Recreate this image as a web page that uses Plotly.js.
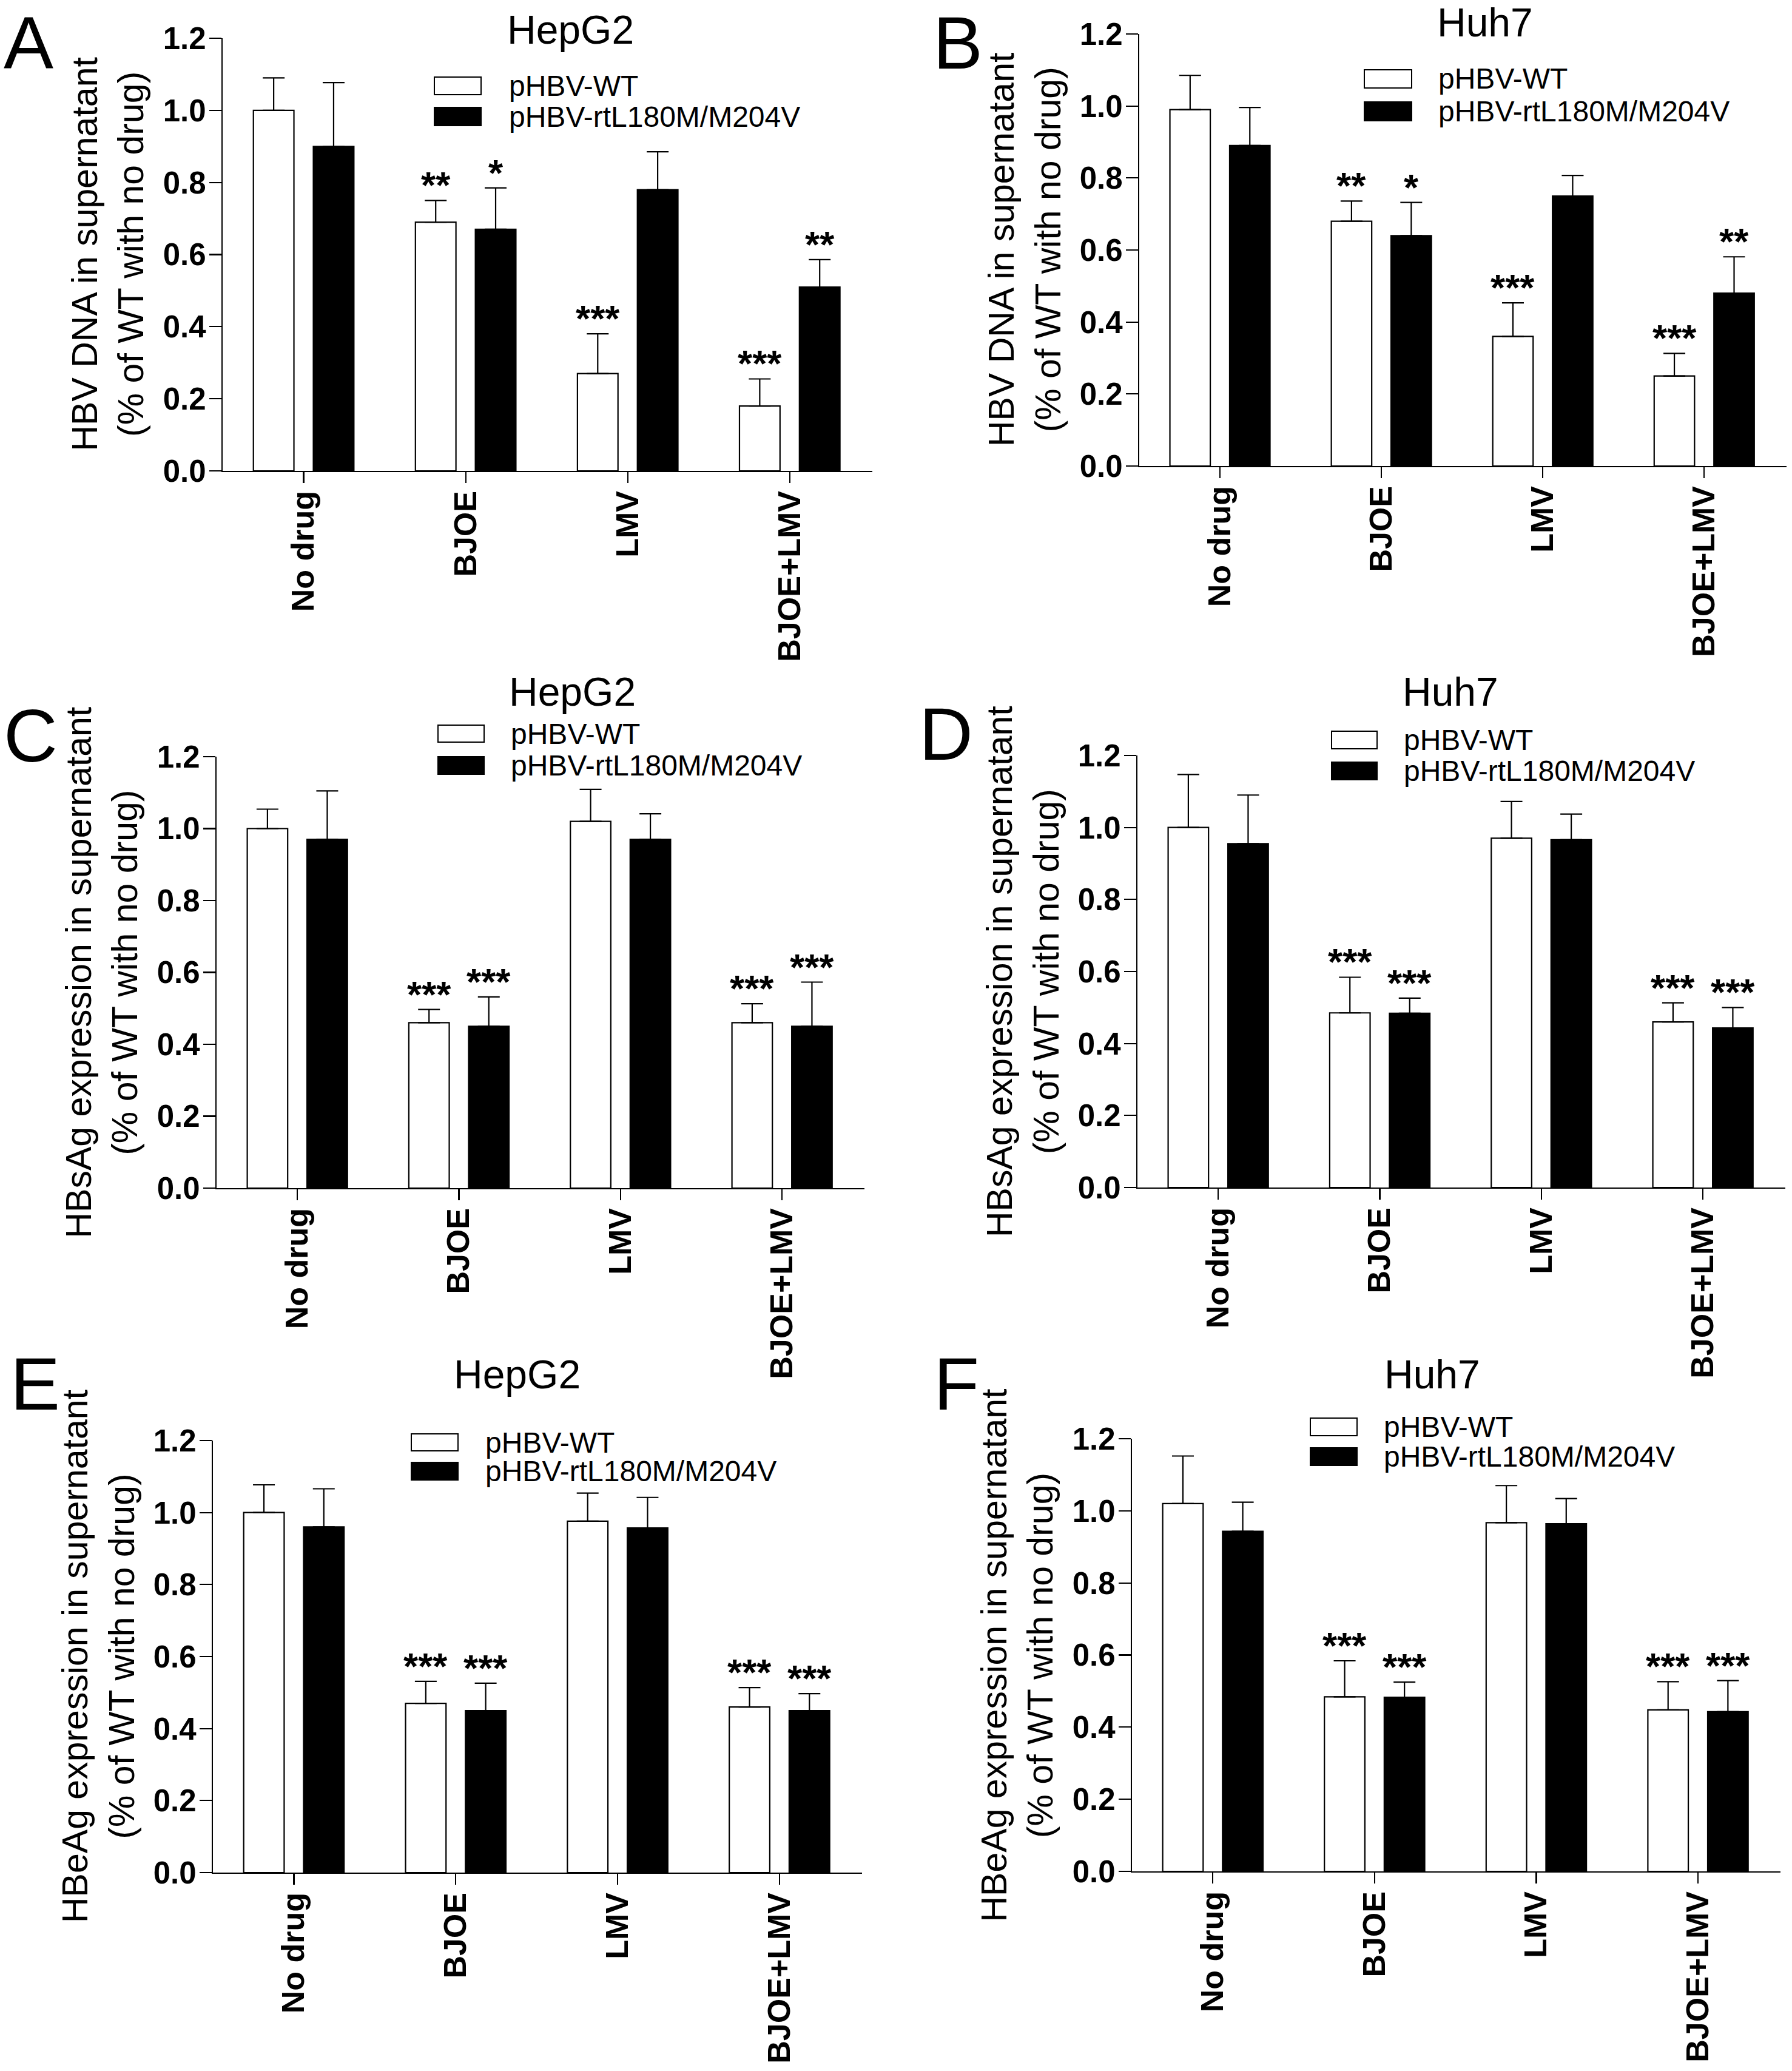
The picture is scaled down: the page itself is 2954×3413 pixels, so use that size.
<!DOCTYPE html>
<html>
<head>
<meta charset="utf-8">
<script src="https://cdn.plot.ly/plotly-3.0.1.min.js"></script>
<style>html,body{margin:0;padding:0;background:#fff}</style>
</head>
<body>
<div id="chart" style="width:2954px;height:3413px"></div>
<script>
// ---------- data ----------
const categories = ['No drug', 'BJOE', 'LMV', 'BJOE+LMV'];
const seriesNames = ['pHBV-WT', 'pHBV-rtL180M/M204V'];
const yTickVals = [0.0, 0.2, 0.4, 0.6, 0.8, 1.0, 1.2];
const yTickText = ['0.0', '0.2', '0.4', '0.6', '0.8', '1.0', '1.2'];
const panelLetters = ['A', 'B', 'C', 'D', 'E', 'F'];
const panelTitles = ['HepG2', 'Huh7', 'HepG2', 'Huh7', 'HepG2', 'Huh7'];
const yTitles = [
  'HBV DNA in supernatant<br>(% of WT with no drug)',
  'HBV DNA in supernatant<br>(% of WT with no drug)',
  'HBsAg expression in supernatant<br>(% of WT with no drug)',
  'HBsAg expression in supernatant<br>(% of WT with no drug)',
  'HBeAg expression in supernatant<br>(% of WT with no drug)',
  'HBeAg expression in supernatant<br>(% of WT with no drug)'
];

// Panel A: HBV DNA, HepG2
const wtA = [1.00, 0.69, 0.27, 0.18];
const wtErrA = [0.09, 0.06, 0.11, 0.075];
const mutA = [0.90, 0.67, 0.78, 0.51];
const mutErrA = [0.177, 0.115, 0.105, 0.076];
const starsWtA = ['', '**', '***', '***'];
const starsMutA = ['', '*', '', '**'];

// Panel B: HBV DNA, Huh7
const wtB = [0.99, 0.68, 0.36, 0.25];
const wtErrB = [0.095, 0.056, 0.093, 0.063];
const mutB = [0.89, 0.64, 0.75, 0.48];
const mutErrB = [0.106, 0.092, 0.057, 0.101];
const starsWtB = ['', '**', '***', '***'];
const starsMutB = ['', '*', '', '**'];

// Panel C: HBsAg, HepG2
const wtC = [1.00, 0.46, 1.02, 0.46];
const wtErrC = [0.054, 0.037, 0.089, 0.053];
const mutC = [0.97, 0.45, 0.97, 0.45];
const mutErrC = [0.135, 0.082, 0.071, 0.123];
const starsWtC = ['', '***', '', '***'];
const starsMutC = ['', '***', '', '***'];

// Panel D: HBsAg, Huh7
const wtD = [1.00, 0.485, 0.97, 0.46];
const wtErrD = [0.147, 0.099, 0.102, 0.053];
const mutD = [0.955, 0.484, 0.966, 0.443];
const mutErrD = [0.135, 0.042, 0.071, 0.057];
const starsWtD = ['', '***', '', '***'];
const starsMutD = ['', '***', '', '***'];

// Panel E: HBeAg, HepG2
const wtE = [1.00, 0.47, 0.976, 0.46];
const wtErrE = [0.077, 0.061, 0.078, 0.054];
const mutE = [0.96, 0.45, 0.957, 0.45];
const mutErrE = [0.106, 0.076, 0.085, 0.047];
const starsWtE = ['', '***', '', '***'];
const starsMutE = ['', '***', '', '***'];

// Panel F: HBeAg, Huh7
const wtF = [1.02, 0.484, 0.967, 0.448];
const wtErrF = [0.132, 0.100, 0.103, 0.078];
const mutF = [0.943, 0.483, 0.964, 0.443];
const mutErrF = [0.081, 0.042, 0.070, 0.086];
const starsWtF = ['', '***', '', '***'];
const starsMutF = ['', '***', '', '***'];

// ---------- layout helpers ----------
const W = 2954, H = 3413;
const px = v => v / W;
const py = v => 1 - v / H;

const panelData = [
  {wt: wtA, wtErr: wtErrA, mut: mutA, mutErr: mutErrA, sW: starsWtA, sM: starsMutA},
  {wt: wtB, wtErr: wtErrB, mut: mutB, mutErr: mutErrB, sW: starsWtB, sM: starsMutB},
  {wt: wtC, wtErr: wtErrC, mut: mutC, mutErr: mutErrC, sW: starsWtC, sM: starsMutC},
  {wt: wtD, wtErr: wtErrD, mut: mutD, mutErr: mutErrD, sW: starsWtD, sM: starsMutD},
  {wt: wtE, wtErr: wtErrE, mut: mutE, mutErr: mutErrE, sW: starsWtE, sM: starsMutE},
  {wt: wtF, wtErr: wtErrF, mut: mutF, mutErr: mutErrF, sW: starsWtF, sM: starsMutF}
];

// plot-area geometry in pixels: [left, right, top(1.2), bottom(0)]
const geom = [
  [367, 1438, 63, 776],
  [1878, 2945, 56, 768],
  [357, 1425, 1247, 1958],
  [1875, 2943, 1245, 1957],
  [351, 1421, 2374, 3086],
  [1866, 2935, 2371, 3084]
];
// legend geometry: [rectX0, rectX1, whiteY0, whiteY1, blackY0, blackY1, textX]
const legGeom = [
  [716, 793, 127, 156, 177, 207, 837],
  [2249, 2327, 115, 145, 168, 199, 2369],
  [722, 798, 1195, 1223, 1247, 1276, 840],
  [2195, 2270, 1205, 1234, 1256, 1285, 2312],
  [678, 755, 2363, 2391, 2410, 2439, 798],
  [2160, 2237, 2337, 2366, 2386, 2415, 2279]
];
const titlePos = [[940, 49], [2448, 37], [943, 1140], [2391, 1140], [852, 2265], [2361, 2265]];
// letter placement: [x, y, anchor]
const letterPos = [[4, 0, 'top'], [1536, 0, 'top'], [4, 1212, 'middle'], [1513, 1210, 'middle'], [15, 2280, 'middle'], [1537, 2280, 'middle']];

const SANS = 'Liberation Sans, Arial, Helvetica, sans-serif';
const NARROW = 'Liberation Sans Narrow, Arial Narrow, Liberation Sans, Arial, sans-serif';

const traces = [];
const layout = {
  width: W, height: H,
  margin: {l: 0, r: 0, t: 0, b: 0},
  paper_bgcolor: '#ffffff', plot_bgcolor: '#ffffff',
  showlegend: false,
  barmode: 'group', bargap: 0.26, bargroupgap: 0.324,
  annotations: [], shapes: []
};

panelData.forEach((p, i) => {
  const n = i + 1;
  const xk = n === 1 ? 'x' : 'x' + n;
  const yk = n === 1 ? 'y' : 'y' + n;
  const g = geom[i];
  const errStyle = {color: '#000', thickness: 2.2, width: 18};
  traces.push({
    type: 'bar', name: seriesNames[0], x: categories, y: p.wt,
    xaxis: xk, yaxis: yk,
    marker: {color: '#ffffff', line: {color: '#000000', width: 2.2}},
    error_y: Object.assign({type: 'data', symmetric: false, array: p.wtErr, arrayminus: p.wtErr.map(() => 0)}, errStyle)
  });
  traces.push({
    type: 'bar', name: seriesNames[1], x: categories, y: p.mut,
    xaxis: xk, yaxis: yk,
    marker: {color: '#000000', line: {color: '#000000', width: 2.2}},
    error_y: Object.assign({type: 'data', symmetric: false, array: p.mutErr, arrayminus: p.mutErr.map(() => 0)}, errStyle)
  });

  layout['xaxis' + (n === 1 ? '' : n)] = {
    domain: [px(g[0]), px(g[1])], anchor: yk,
    type: 'category', categoryorder: 'array', categoryarray: categories,
    range: [-0.5, 3.51], fixedrange: true,
    showline: true, linecolor: '#000', linewidth: 2.2,
    ticks: 'outside', ticklen: 18, tickwidth: 2.2, tickcolor: '#000',
    tickangle: -90, ticklabelstandoff: -8,
    tickfont: {family: SANS, size: 52, color: '#000', weight: 'bold'},
    showgrid: false, zeroline: false
  };
  layout['yaxis' + (n === 1 ? '' : n)] = {
    domain: [py(g[3]), py(g[2])], anchor: xk,
    range: [0, 1.2], fixedrange: true,
    tickmode: 'array', tickvals: yTickVals, ticktext: yTickText,
    showline: true, linecolor: '#000', linewidth: 2.2,
    ticks: 'outside', ticklen: 20, tickwidth: 2.2, tickcolor: '#000',
    ticklabelstandoff: -5,
    tickfont: {family: SANS, size: 51, color: '#000', weight: 'bold'},
    showgrid: false, zeroline: false
  };

  // y title
  layout.annotations.push({
    xref: 'paper', yref: 'paper', x: px(g[0] - 189), y: py((g[2] + g[3]) / 2),
    xanchor: 'center', yanchor: 'middle', textangle: -90, showarrow: false,
    text: yTitles[i], align: 'center',
    font: {family: SANS, size: 59, color: '#000'}
  });
  // panel title
  layout.annotations.push({
    xref: 'paper', yref: 'paper', x: px(titlePos[i][0]), y: py(titlePos[i][1]),
    xanchor: 'center', yanchor: 'middle', showarrow: false,
    text: panelTitles[i], font: {family: SANS, size: 66, color: '#000'}
  });
  // panel letter
  layout.annotations.push({
    xref: 'paper', yref: 'paper', x: px(letterPos[i][0]), y: py(letterPos[i][1]),
    xanchor: 'left', yanchor: letterPos[i][2], showarrow: false,
    text: panelLetters[i], font: {family: NARROW, size: 123, color: '#000'}
  });
  // legend
  const lg = legGeom[i];
  layout.shapes.push({type: 'rect', xref: 'paper', yref: 'paper',
    x0: px(lg[0]), x1: px(lg[1]), y0: py(lg[3]), y1: py(lg[2]),
    fillcolor: '#ffffff', line: {color: '#000', width: 2}});
  layout.shapes.push({type: 'rect', xref: 'paper', yref: 'paper',
    x0: px(lg[0]), x1: px(lg[1]), y0: py(lg[5]), y1: py(lg[4]),
    fillcolor: '#000000', line: {color: '#000', width: 2}});
  layout.annotations.push({
    xref: 'paper', yref: 'paper', x: px(lg[6]), y: py((lg[2] + lg[3]) / 2),
    xanchor: 'left', yanchor: 'middle', showarrow: false,
    text: seriesNames[0], font: {family: SANS, size: 48, color: '#000'}
  });
  layout.annotations.push({
    xref: 'paper', yref: 'paper', x: px(lg[6]), y: py((lg[4] + lg[5]) / 2),
    xanchor: 'left', yanchor: 'middle', showarrow: false,
    text: seriesNames[1], font: {family: SANS, size: 48, color: '#000'}
  });
  // significance stars
  categories.forEach((c, ci) => {
    [[p.sW, p.wt, p.wtErr, -0.185], [p.sM, p.mut, p.mutErr, 0.185]].forEach(s => {
      const txt = s[0][ci];
      if (!txt) return;
      layout.annotations.push({
        xref: xk, yref: yk, x: ci + s[3], y: s[1][ci] + s[2][ci],
        xanchor: 'center', yanchor: 'bottom', yshift: -11, showarrow: false,
        text: txt, font: {family: SANS, size: 62, color: '#000', weight: 'bold'}
      });
    });
  });
});

Plotly.newPlot('chart', traces, layout, {staticPlot: true, displayModeBar: false});
</script>
</body>
</html>
